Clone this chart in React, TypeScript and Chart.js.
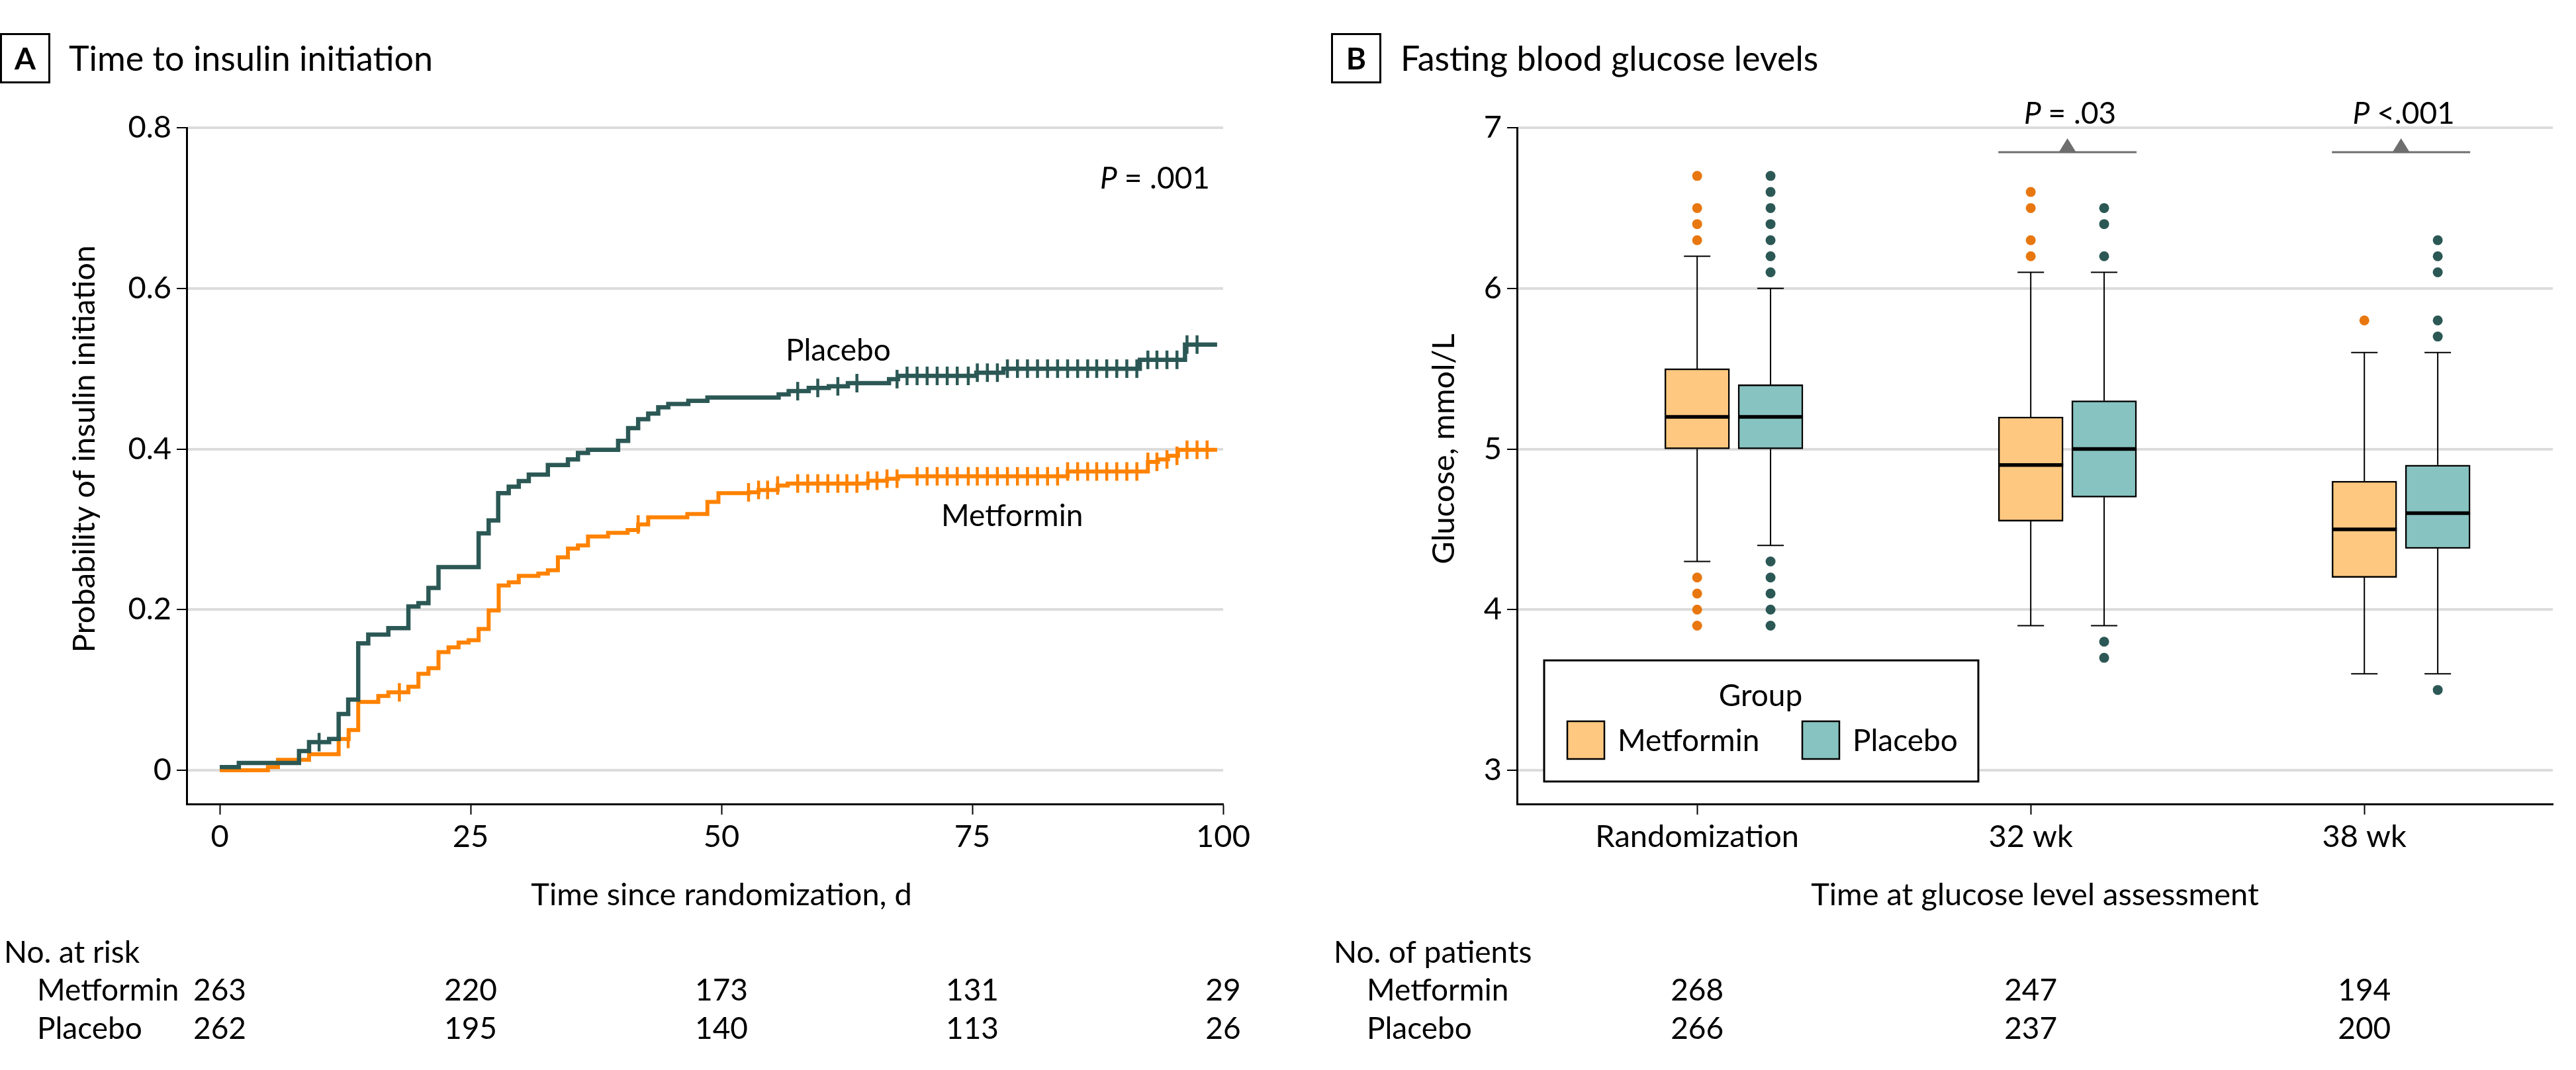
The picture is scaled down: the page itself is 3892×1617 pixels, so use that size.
import React, { useEffect, useRef } from "react";
import { Chart, registerables } from "chart.js";
Chart.register(...registerables);

const FONT = "Lato, 'Open Sans', 'DejaVu Sans', sans-serif";

// ---------- Panel A: time to insulin initiation (Kaplan-Meier style) ----------
const PLACEBO_TIME = [0, 1.9, 7.9, 8.9, 10.9, 11.85, 12.8, 13.8, 14.8, 16.8, 18.8, 19.8, 20.8, 21.8, 25.8, 26.8, 27.75, 28.8, 29.8, 30.8, 32.7, 34.7, 35.7, 36.7, 39.7, 40.7, 41.7, 42.7, 43.7, 44.7, 46.7, 48.6, 55.7, 56.7, 58.7, 60.7, 62.6, 66.7, 67.6, 75.4, 78.1, 91.7, 96.2, 99.4];
const PLACEBO_PROB = [0.004, 0.009, 0.024, 0.035, 0.039, 0.07, 0.088, 0.158, 0.169, 0.177, 0.204, 0.208, 0.227, 0.253, 0.295, 0.311, 0.345, 0.353, 0.36, 0.368, 0.38, 0.387, 0.395, 0.399, 0.41, 0.426, 0.437, 0.444, 0.452, 0.456, 0.46, 0.464, 0.468, 0.472, 0.476, 0.478, 0.482, 0.487, 0.491, 0.495, 0.5, 0.511, 0.53, 0.53];
const METFORMIN_TIME = [0, 4.8, 5.8, 8.9, 11.85, 12.85, 13.8, 15.8, 16.8, 18.8, 19.8, 20.8, 21.8, 22.8, 23.8, 24.8, 25.8, 26.8, 27.8, 28.8, 29.8, 31.75, 32.7, 33.7, 34.7, 35.7, 36.7, 38.7, 40.65, 41.7, 42.7, 46.6, 48.6, 49.7, 52.7, 53.7, 55.6, 56.6, 64.6, 66.5, 67.6, 84.5, 92.5, 93.5, 94.5, 95.5, 99.4];
const METFORMIN_PROB = [0, 0.004, 0.013, 0.02, 0.039, 0.05, 0.085, 0.0925, 0.097, 0.104, 0.12, 0.127, 0.147, 0.153, 0.159, 0.162, 0.176, 0.199, 0.23, 0.234, 0.242, 0.245, 0.249, 0.265, 0.276, 0.28, 0.291, 0.2955, 0.299, 0.306, 0.315, 0.319, 0.334, 0.345, 0.346, 0.349, 0.3545, 0.357, 0.3605, 0.363, 0.366, 0.372, 0.384, 0.387, 0.3915, 0.399, 0.399];
const PLACEBO_CENSOR_TIME = [9.9, 57.6, 59.6, 61.6, 63.5, 67.5, 68.5, 69.5, 70.5, 71.5, 72.5, 73.5, 74.6, 75.5, 76.5, 77.5, 78.5, 79.5, 80.5, 81.5, 82.5, 83.5, 84.5, 85.5, 86.5, 87.4, 88.4, 89.4, 90.4, 91.4, 92.5, 93.4, 94.4, 95.4, 96.4, 97.4];
const METFORMIN_CENSOR_TIME = [12.8, 17.9, 41.7, 52.7, 53.7, 54.6, 55.6, 57.6, 58.6, 59.6, 60.6, 61.6, 62.5, 63.5, 64.6, 65.5, 66.5, 67.5, 69.5, 70.5, 71.5, 72.5, 73.5, 74.6, 75.5, 76.5, 77.5, 78.5, 79.5, 80.5, 81.5, 82.5, 83.5, 84.5, 85.5, 86.5, 87.4, 88.4, 89.4, 90.4, 91.4, 92.5, 93.4, 94.4, 95.4, 96.4, 97.4, 98.4];
const KM_X_TICKS = [0, 25, 50, 75, 100];
const KM_Y_TICKS = [0, 0.2, 0.4, 0.6, 0.8];
const KM_Y_LABELS = ["0", "0.2", "0.4", "0.6", "0.8"];
const RISK_METFORMIN = [263, 220, 173, 131, 29];
const RISK_PLACEBO = [262, 195, 140, 113, 26];

// ---------- Panel B: fasting blood glucose (box plots) ----------
const GLU_CATEGORIES = ["Randomization", "32 wk", "38 wk"];
const GLU_Y_TICKS = [3, 4, 5, 6, 7];
const MET_Q1 = [5.0, 4.55, 4.2];
const MET_MEDIAN = [5.2, 4.9, 4.5];
const MET_Q3 = [5.5, 5.2, 4.8];
const MET_WHISK_LO = [4.3, 3.9, 3.6];
const MET_WHISK_HI = [6.2, 6.1, 5.6];
const MET_OUTLIERS = [[6.7, 6.5, 6.4, 6.3, 4.2, 4.1, 4.0, 3.9], [6.6, 6.5, 6.3, 6.2], [5.8]];
const PLA_Q1 = [5.0, 4.7, 4.38];
const PLA_MEDIAN = [5.2, 5.0, 4.6];
const PLA_Q3 = [5.4, 5.3, 4.9];
const PLA_WHISK_LO = [4.4, 3.9, 3.6];
const PLA_WHISK_HI = [6.0, 6.1, 5.6];
const PLA_OUTLIERS = [[6.7, 6.6, 6.5, 6.4, 6.3, 6.2, 6.1, 4.3, 4.2, 4.1, 4.0, 3.9], [6.5, 6.4, 6.2, 3.8, 3.7], [6.3, 6.2, 6.1, 5.8, 5.7, 3.5]];
const GLU_P_LABELS = ["", "= .03", "<.001"];
const PATIENTS_METFORMIN = [268, 247, 194];
const PATIENTS_PLACEBO = [266, 237, 200];

// styles
const DARK = "#2B5855";
const ORANGE = "#FF8200";
const MET_FILL = "#FEC880";
const PLA_FILL = "#87C3C0";
const MET_DOT = "#E8770F";
const GRID = "#DCDCDC";
const GROUP_OFFSET = 0.22; // placebo box offset from category position (axis units)
const BOX_PX = 98;

function stepValue(times: number[], probs: number[], t: number) {
  let v = probs[0];
  for (let i = 0; i < times.length; i++) if (times[i] <= t + 1e-9) v = probs[i];
  return v;
}

function txt(ctx: CanvasRenderingContext2D, s: string, x: number, y: number, size = 46, align: CanvasTextAlign = "left", weight = "normal", style = "normal", baseline: CanvasTextBaseline = "alphabetic") {
  ctx.font = `${style} ${weight} ${size}px ${FONT}`;
  ctx.textAlign = align;
  ctx.textBaseline = baseline;
  ctx.fillStyle = "#000";
  ctx.fillText(s, x, y);
}

function pText(ctx: CanvasRenderingContext2D, rest: string, x: number, y: number, size: number, align: "right" | "center") {
  ctx.font = `italic normal ${size}px ${FONT}`;
  const wP = ctx.measureText("P ").width;
  ctx.font = `normal normal ${size}px ${FONT}`;
  const wR = ctx.measureText(rest).width;
  const total = wP + wR;
  const left = align === "right" ? x - total : x - total / 2;
  txt(ctx, "P", left, y, size, "left", "normal", "italic");
  txt(ctx, rest, left + wP, y, size, "left");
}

function vText(ctx: CanvasRenderingContext2D, s: string, x: number, y: number, size: number) {
  ctx.save();
  ctx.translate(x, y);
  ctx.rotate(-Math.PI / 2);
  txt(ctx, s, 0, 0, size, "center", "normal", "normal", "middle");
  ctx.restore();
}

const annotA = {
  id: "annotA",
  afterDraw(chart: any) {
    const ctx = chart.ctx as CanvasRenderingContext2D;
    const xs = chart.scales.x;
    const ys = chart.scales.y;
    ctx.save();
    ctx.lineWidth = 3;
    ctx.strokeStyle = "#000";
    ctx.strokeRect(1.5, 51.5, 73, 73);
    txt(ctx, "A", 38, 105, 46, "center", "bold");
    txt(ctx, "Time to insulin initiation", 104, 107, 52);
    pText(ctx, "= .001", 1828, 285, 46, "right");
    txt(ctx, "Placebo", 1187, 545, 46);
    txt(ctx, "Metformin", 1422, 795, 46);
    txt(ctx, "Time since randomization, d", xs.getPixelForValue(50), 1368, 47, "center");
    vText(ctx, "Probability of insulin initiation", 128, ys.getPixelForValue(0.4), 47);
    txt(ctx, "No. at risk", 6, 1455, 46);
    txt(ctx, "Metformin", 56, 1512, 46);
    txt(ctx, "Placebo", 56, 1570, 46);
    KM_X_TICKS.forEach((t, i) => {
      const px = xs.getPixelForValue(t);
      txt(ctx, String(RISK_METFORMIN[i]), px, 1512, 46, "center");
      txt(ctx, String(RISK_PLACEBO[i]), px, 1570, 46, "center");
    });
    ctx.restore();
  },
};

const boxParts = {
  id: "boxParts",
  beforeDatasetsDraw(chart: any) {
    const ctx = chart.ctx as CanvasRenderingContext2D;
    const xs = chart.scales.x;
    const ys = chart.scales.y;
    ctx.save();
    ctx.strokeStyle = "#000";
    ctx.lineWidth = 2;
    const groups = [
      { off: 0, lo: MET_WHISK_LO, hi: MET_WHISK_HI, q1: MET_Q1, q3: MET_Q3 },
      { off: GROUP_OFFSET, lo: PLA_WHISK_LO, hi: PLA_WHISK_HI, q1: PLA_Q1, q3: PLA_Q3 },
    ];
    groups.forEach((g) => {
      GLU_CATEGORIES.forEach((_, i) => {
        const px = xs.getPixelForValue(i + 1 + g.off);
        ctx.beginPath();
        ctx.moveTo(px, ys.getPixelForValue(g.lo[i]));
        ctx.lineTo(px, ys.getPixelForValue(g.q1[i]));
        ctx.moveTo(px, ys.getPixelForValue(g.q3[i]));
        ctx.lineTo(px, ys.getPixelForValue(g.hi[i]));
        ctx.moveTo(px - 20, ys.getPixelForValue(g.lo[i]));
        ctx.lineTo(px + 20, ys.getPixelForValue(g.lo[i]));
        ctx.moveTo(px - 20, ys.getPixelForValue(g.hi[i]));
        ctx.lineTo(px + 20, ys.getPixelForValue(g.hi[i]));
        ctx.stroke();
      });
    });
    ctx.restore();
  },
  afterDatasetsDraw(chart: any) {
    const ctx = chart.ctx as CanvasRenderingContext2D;
    const xs = chart.scales.x;
    const ys = chart.scales.y;
    ctx.save();
    ctx.strokeStyle = "#000";
    ctx.lineWidth = 5.5;
    [
      { off: 0, med: MET_MEDIAN },
      { off: GROUP_OFFSET, med: PLA_MEDIAN },
    ].forEach((g) => {
      GLU_CATEGORIES.forEach((_, i) => {
        const px = xs.getPixelForValue(i + 1 + g.off);
        const py = ys.getPixelForValue(g.med[i]);
        ctx.beginPath();
        ctx.moveTo(px - BOX_PX / 2, py);
        ctx.lineTo(px + BOX_PX / 2, py);
        ctx.stroke();
      });
    });
    ctx.restore();
  },
};

const annotB = {
  id: "annotB",
  afterDraw(chart: any) {
    const ctx = chart.ctx as CanvasRenderingContext2D;
    const xs = chart.scales.x;
    const ys = chart.scales.y;
    const area = chart.chartArea;
    ctx.save();
    ctx.lineWidth = 3;
    ctx.strokeStyle = "#000";
    ctx.strokeRect(62.5, 51.5, 73, 73);
    txt(ctx, "B", 99, 105, 46, "center", "bold");
    txt(ctx, "Fasting blood glucose levels", 166, 107, 52);
    // P brackets
    GLU_P_LABELS.forEach((lab, i) => {
      if (!lab) return;
      const l = xs.getPixelForValue(i + 1) - BOX_PX / 2;
      const r = xs.getPixelForValue(i + 1 + GROUP_OFFSET) + BOX_PX / 2;
      const c = (l + r) / 2;
      ctx.strokeStyle = "#6E6E6E";
      ctx.fillStyle = "#6E6E6E";
      ctx.lineWidth = 3;
      ctx.beginPath();
      ctx.moveTo(l, 230);
      ctx.lineTo(r, 230);
      ctx.stroke();
      ctx.beginPath();
      ctx.moveTo(c - 13, 230);
      ctx.lineTo(c, 209);
      ctx.lineTo(c + 13, 230);
      ctx.closePath();
      ctx.fill();
      pText(ctx, lab, c + 4, 187, 46, "center");
    });
    // legend
    ctx.fillStyle = "#fff";
    ctx.fillRect(383, 998, 656, 183);
    ctx.lineWidth = 3;
    ctx.strokeStyle = "#000";
    ctx.strokeRect(383, 998, 656, 183);
    txt(ctx, "Group", 710, 1067, 46, "center");
    ctx.lineWidth = 2.5;
    ctx.fillStyle = MET_FILL;
    ctx.fillRect(418, 1090, 56, 57);
    ctx.strokeRect(418, 1090, 56, 57);
    txt(ctx, "Metformin", 494, 1135, 46);
    ctx.fillStyle = PLA_FILL;
    ctx.fillRect(773, 1090, 56, 57);
    ctx.strokeRect(773, 1090, 56, 57);
    txt(ctx, "Placebo", 849, 1135, 46);
    // axis titles
    txt(ctx, "Time at glucose level assessment", (area.left + area.right) / 2, 1368, 47, "center");
    vText(ctx, "Glucose, mmol/L", 232, ys.getPixelForValue(5), 47);
    // patients table
    txt(ctx, "No. of patients", 65, 1455, 46);
    txt(ctx, "Metformin", 115, 1512, 46);
    txt(ctx, "Placebo", 115, 1570, 46);
    GLU_CATEGORIES.forEach((_, i) => {
      const px = xs.getPixelForValue(i + 1);
      txt(ctx, String(PATIENTS_METFORMIN[i]), px, 1512, 46, "center");
      txt(ctx, String(PATIENTS_PLACEBO[i]), px, 1570, 46, "center");
    });
    ctx.restore();
  },
};

const tickFont = { family: FONT, size: 47 };

function KMPanel() {
  const ref = useRef<HTMLCanvasElement>(null);
  useEffect(() => {
    const chart = new Chart(ref.current as HTMLCanvasElement, {
      type: "scatter",
      data: {
        datasets: [
          {
            label: "Placebo",
            data: PLACEBO_TIME.map((t, i) => ({ x: t, y: PLACEBO_PROB[i] })),
            showLine: true,
            stepped: true,
            borderColor: DARK,
            borderWidth: 6.5,
            pointRadius: 0,
            fill: false,
          } as any,
          {
            label: "Placebo censored",
            data: PLACEBO_CENSOR_TIME.map((t) => ({ x: t, y: stepValue(PLACEBO_TIME, PLACEBO_PROB, t) })),
            showLine: false,
            pointStyle: "line",
            rotation: 90,
            pointRadius: 14,
            pointBorderWidth: 4.5,
            borderColor: DARK,
            pointBorderColor: DARK,
          } as any,
          {
            label: "Metformin",
            data: METFORMIN_TIME.map((t, i) => ({ x: t, y: METFORMIN_PROB[i] })),
            showLine: true,
            stepped: true,
            borderColor: ORANGE,
            borderWidth: 6,
            pointRadius: 0,
            fill: false,
          } as any,
          {
            label: "Metformin censored",
            data: METFORMIN_CENSOR_TIME.map((t) => ({ x: t, y: stepValue(METFORMIN_TIME, METFORMIN_PROB, t) })),
            showLine: false,
            pointStyle: "line",
            rotation: 90,
            pointRadius: 14,
            pointBorderWidth: 4.5,
            borderColor: ORANGE,
            pointBorderColor: ORANGE,
          } as any,
        ],
      },
      options: {
        animation: false,
        responsive: false,
        devicePixelRatio: 1,
        layout: { padding: { left: 0, top: 193, right: 102, bottom: 302 } },
        plugins: { legend: { display: false }, tooltip: { enabled: false } },
        scales: {
          x: {
            type: "linear",
            min: -3.3,
            max: 100,
            afterBuildTicks: (s: any) => {
              s.ticks = KM_X_TICKS.map((v) => ({ value: v }));
            },
            afterFit: (s: any) => {
              s.height = 100;
            },
            grid: { drawOnChartArea: false, drawTicks: true, tickLength: 16, tickWidth: 2, tickColor: "#000" },
            border: { display: true, color: "#000", width: 3 },
            ticks: { font: tickFont, color: "#000", padding: 6, maxRotation: 0, autoSkip: false },
          },
          y: {
            type: "linear",
            min: -0.042,
            max: 0.8,
            afterBuildTicks: (s: any) => {
              s.ticks = KM_Y_TICKS.map((v) => ({ value: v }));
            },
            afterFit: (s: any) => {
              s.width = 282;
            },
            grid: { color: GRID, lineWidth: 4, drawTicks: true, tickLength: 15, tickWidth: 2, tickColor: "#000" },
            border: { display: true, color: "#000", width: 3 },
            ticks: {
              font: tickFont,
              color: "#000",
              padding: 8,
              autoSkip: false,
              callback: (_v: any, i: number) => KM_Y_LABELS[i],
            },
          },
        },
      } as any,
      plugins: [annotA],
    });
    return () => chart.destroy();
  }, []);
  return <canvas ref={ref} width={1950} height={1617} style={{ position: "absolute", left: 0, top: 0, width: 1950, height: 1617 }} />;
}

function BoxPanel() {
  const ref = useRef<HTMLCanvasElement>(null);
  useEffect(() => {
    const chart = new Chart(ref.current as HTMLCanvasElement, {
      type: "scatter",
      data: {
        datasets: [
          {
            type: "bar",
            label: "Metformin",
            data: GLU_CATEGORIES.map((_, i) => ({ x: i + 1, y: [MET_Q1[i], MET_Q3[i]] })),
            backgroundColor: MET_FILL,
            borderColor: "#000",
            borderWidth: 2.5,
            borderSkipped: false,
            barThickness: BOX_PX,
            grouped: false,
          } as any,
          {
            type: "bar",
            label: "Placebo",
            data: GLU_CATEGORIES.map((_, i) => ({ x: i + 1 + GROUP_OFFSET, y: [PLA_Q1[i], PLA_Q3[i]] })),
            backgroundColor: PLA_FILL,
            borderColor: "#000",
            borderWidth: 2.5,
            borderSkipped: false,
            barThickness: BOX_PX,
            grouped: false,
          } as any,
          {
            type: "scatter",
            label: "Metformin outliers",
            data: MET_OUTLIERS.flatMap((vals, i) => vals.map((v) => ({ x: i + 1, y: v }))),
            pointRadius: 7.5,
            pointBackgroundColor: MET_DOT,
            pointBorderWidth: 0,
          } as any,
          {
            type: "scatter",
            label: "Placebo outliers",
            data: PLA_OUTLIERS.flatMap((vals, i) => vals.map((v) => ({ x: i + 1 + GROUP_OFFSET, y: v }))),
            pointRadius: 7.5,
            pointBackgroundColor: DARK,
            pointBorderWidth: 0,
          } as any,
        ],
      },
      options: {
        animation: false,
        responsive: false,
        devicePixelRatio: 1,
        layout: { padding: { left: 0, top: 193, right: 35, bottom: 302 } },
        plugins: { legend: { display: false }, tooltip: { enabled: false } },
        scales: {
          x: {
            type: "linear",
            min: 0.46,
            max: 3.565,
            offset: false,
            afterBuildTicks: (s: any) => {
              s.ticks = GLU_CATEGORIES.map((_, i) => ({ value: i + 1 }));
            },
            afterFit: (s: any) => {
              s.height = 100;
            },
            grid: { offset: false, drawOnChartArea: false, drawTicks: true, tickLength: 16, tickWidth: 2, tickColor: "#000" },
            border: { display: true, color: "#000", width: 3 },
            ticks: {
              font: tickFont,
              color: "#000",
              padding: 6,
              maxRotation: 0,
              autoSkip: false,
              callback: (_v: any, i: number) => GLU_CATEGORIES[i],
            },
          },
          y: {
            type: "linear",
            min: 2.79,
            max: 7,
            afterBuildTicks: (s: any) => {
              s.ticks = GLU_Y_TICKS.map((v) => ({ value: v }));
            },
            afterFit: (s: any) => {
              s.width = 342;
            },
            grid: { color: GRID, lineWidth: 4, drawTicks: true, tickLength: 15, tickWidth: 2, tickColor: "#000" },
            border: { display: true, color: "#000", width: 3 },
            ticks: {
              font: tickFont,
              color: "#000",
              padding: 8,
              autoSkip: false,
              callback: (_v: any, i: number) => String(GLU_Y_TICKS[i]),
            },
          },
        },
      } as any,
      plugins: [boxParts, annotB],
    });
    return () => chart.destroy();
  }, []);
  return <canvas ref={ref} width={1942} height={1617} style={{ position: "absolute", left: 1950, top: 0, width: 1942, height: 1617 }} />;
}

export default function App() {
  return (
    <div style={{ position: "absolute", left: 0, top: 0, width: 3892, height: 1617, background: "#fff", overflow: "hidden" }}>
      <KMPanel />
      <BoxPanel />
    </div>
  );
}
